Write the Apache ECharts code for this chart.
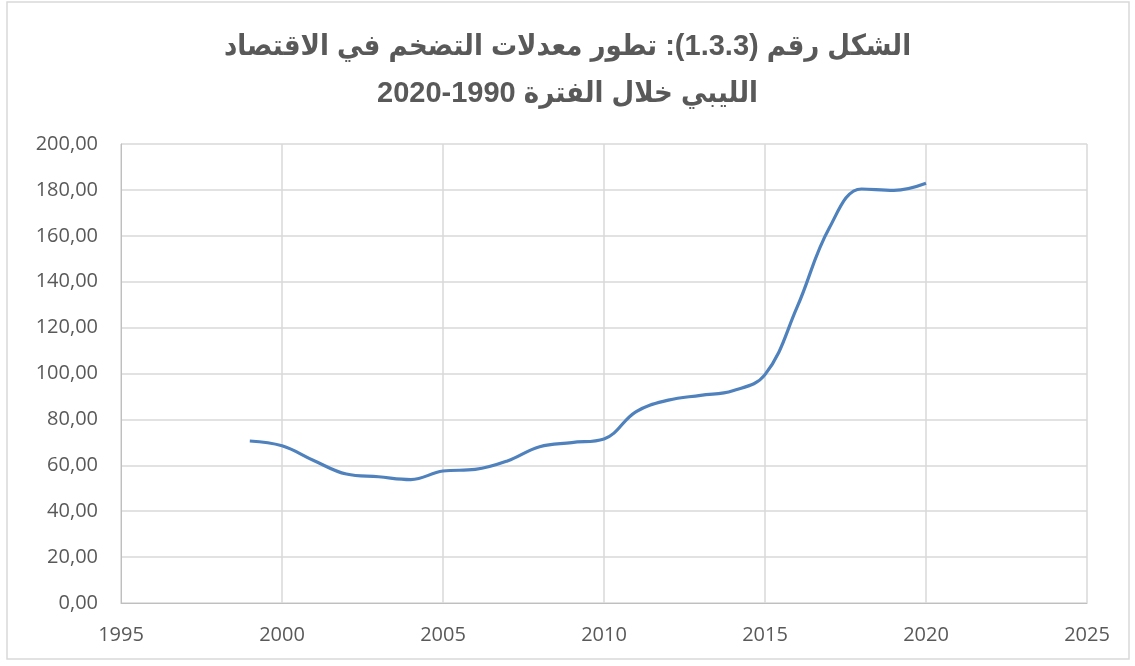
<!DOCTYPE html>
<html>
<head>
<meta charset="utf-8">
<script src="https://cdn.jsdelivr.net/npm/echarts@6/dist/echarts.min.js"></script>
<style>
  html, body { margin: 0; padding: 0; background: #ffffff; }
  #chart { width: 1135px; height: 666px; }
</style>
</head>
<body>
<div id="chart"></div>
<script>
const titleLines = [
  "الشكل رقم (1.3.3): تطور معدلات التضخم في الاقتصاد",
  "الليبي خلال الفترة 1990-2020"
];
const years = [1999, 2000, 2001, 2002, 2003, 2004, 2005, 2006, 2007, 2008, 2009,
               2010, 2011, 2012, 2013, 2014, 2015, 2016, 2017, 2018, 2019, 2020];
const inflation = [70.6, 68.5, 62.0, 56.2, 55.0, 53.8, 57.5, 58.2, 61.9, 68.1, 69.9,
                   71.5, 83.4, 88.4, 90.5, 92.5, 99.5, 129.0, 163.5, 180.4, 179.8, 182.9];
const xMin = 1995, xMax = 2025, xStep = 5;
const yMin = 0, yMax = 200, yStep = 20;

const chart = echarts.init(document.getElementById('chart'), null, { renderer: 'canvas' });
const font = "'Open Sans', 'Liberation Sans', sans-serif";
chart.setOption({
  backgroundColor: '#ffffff',
  animation: false,
  graphic: [{
    type: 'rect',
    shape: { x: 7, y: 2, width: 1122, height: 657 },
    style: { fill: 'none', stroke: '#D9D9D9', lineWidth: 1.5 },
    silent: true
  }],
  title: {
    text: titleLines.join('\n'),
    left: 'center',
    top: 23,
    padding: 0,
    textStyle: {
      fontFamily: "'Liberation Sans', 'DejaVu Sans Condensed', 'DejaVu Sans', Arial, sans-serif",
      fontSize: 29,
      fontWeight: 'bold',
      color: '#595959',
      lineHeight: 47
    }
  },
  grid: { left: 121, right: 48, top: 144, bottom: 63, containLabel: false },
  xAxis: {
    type: 'value',
    min: xMin, max: xMax, interval: xStep,
    axisLine: { show: true, lineStyle: { color: '#BFBFBF', width: 1 } },
    axisTick: { show: false },
    splitLine: { show: true, lineStyle: { color: '#D9D9D9', width: 1.5 } },
    axisLabel: { color: '#595959', fontSize: 20, fontFamily: font, margin: 22,
                 formatter: v => String(v) }
  },
  yAxis: {
    type: 'value',
    min: yMin, max: yMax, interval: yStep,
    axisLine: { show: true, lineStyle: { color: '#BFBFBF', width: 1 } },
    axisTick: { show: false },
    splitLine: { show: true, lineStyle: { color: '#D9D9D9', width: 1.5 } },
    axisLabel: { color: '#595959', fontSize: 20, fontFamily: font, margin: 23,
                 formatter: v => v.toFixed(2).replace('.', ',') }
  },
  series: [{
    type: 'line',
    data: years.map((y, i) => [y, inflation[i]]),
    smooth: 0.4,
    showSymbol: false,
    lineStyle: { color: '#4F81BD', width: 3.2 },
    itemStyle: { color: '#4F81BD' }
  }]
});
</script>
</body>
</html>
